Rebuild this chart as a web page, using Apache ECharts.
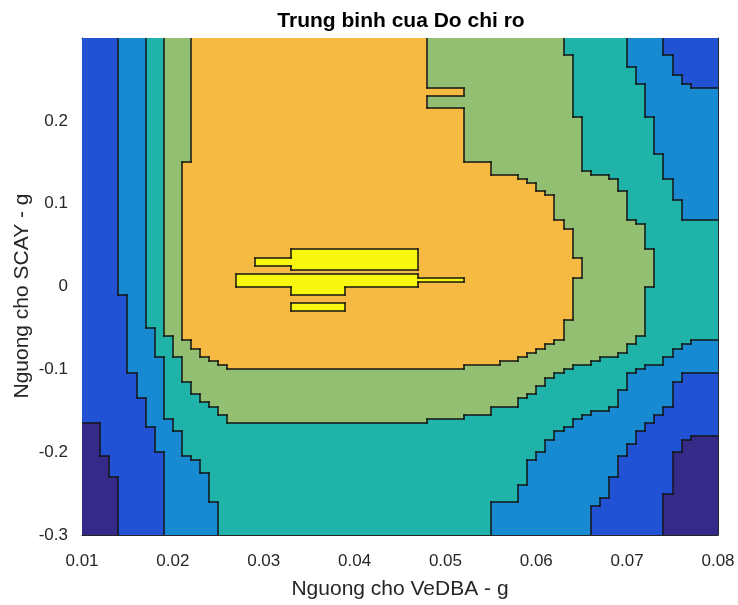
<!DOCTYPE html>
<html>
<head>
<meta charset="utf-8">
<script src="https://cdn.jsdelivr.net/npm/echarts@6/dist/echarts.min.js"></script>
<style>
  html, body { margin: 0; padding: 0; background: #ffffff; }
  #chart { width: 738px; height: 605px; }
</style>
</head>
<body>
<div id="chart"></div>
<script>
// Level grid: columns step 0.001 from x = 0.01, rows step 0.005 from y = 0.3 downward.
const xStart = 0.01, xStep = 0.001, nCols = 70;
const yTop = 0.3, yStep = 0.005;

const xTicks = [0.01, 0.02, 0.03, 0.04, 0.05, 0.06, 0.07, 0.08];
const yTicks = [-0.3, -0.2, -0.1, 0, 0.1, 0.2, 0.3];

// Filled colours for contour levels 0 (lowest) .. 6 (highest)
const levelColors = ['#352a87', '#2152d4', '#188ad1', '#1fb3aa', '#93bf72', '#f6b942', '#f6f60f'];

// Each entry: [number of identical rows, "level:endColumn ..."] read top to bottom
const levelRows = [
  [4, "1:4 2:7 3:9 4:12 5:38 4:53 3:60 2:64 1:70"],
  [3, "1:4 2:7 3:9 4:12 5:38 4:54 3:60 2:65 1:70"],
  [2, "1:4 2:7 3:9 4:12 5:38 4:54 3:61 2:65 1:70"],
  [2, "1:4 2:7 3:9 4:12 5:38 4:54 3:61 2:66 1:70"],
  [1, "1:4 2:7 3:9 4:12 5:38 4:54 3:62 2:67 1:70"],
  [2, "1:4 2:7 3:9 4:12 5:42 4:54 3:62 2:70"],
  [3, "1:4 2:7 3:9 4:12 5:38 4:54 3:62 2:70"],
  [2, "1:4 2:7 3:9 4:12 5:42 4:54 3:62 2:70"],
  [9, "1:4 2:7 3:9 4:12 5:42 4:55 3:63 2:70"],
  [2, "1:4 2:7 3:9 4:12 5:42 4:55 3:64 2:70"],
  [2, "1:4 2:7 3:9 4:11 5:45 4:55 3:64 2:70"],
  [1, "1:4 2:7 3:9 4:11 5:45 4:56 3:64 2:70"],
  [1, "1:4 2:7 3:9 4:11 5:48 4:58 3:64 2:70"],
  [1, "1:4 2:7 3:9 4:11 5:49 4:59 3:65 2:70"],
  [2, "1:4 2:7 3:9 4:11 5:50 4:59 3:65 2:70"],
  [1, "1:4 2:7 3:9 4:11 5:51 4:60 3:65 2:70"],
  [1, "1:4 2:7 3:9 4:11 5:52 4:60 3:65 2:70"],
  [5, "1:4 2:7 3:9 4:11 5:52 4:60 3:66 2:70"],
  [1, "1:4 2:7 3:9 4:11 5:53 4:61 3:70"],
  [1, "1:4 2:7 3:9 4:11 5:53 4:62 3:70"],
  [5, "1:4 2:7 3:9 4:11 5:54 4:62 3:70"],
  [2, "1:4 2:7 3:9 4:11 5:23 6:37 5:54 4:63 3:70"],
  [2, "1:4 2:7 3:9 4:11 5:19 6:37 5:55 4:63 3:70"],
  [1, "1:4 2:7 3:9 4:11 5:23 6:37 5:55 4:63 3:70"],
  [1, "1:4 2:7 3:9 4:11 5:55 4:63 3:70"],
  [1, "1:4 2:7 3:9 4:11 5:17 6:37 5:55 4:63 3:70"],
  [1, "1:4 2:7 3:9 4:11 5:17 6:42 5:54 4:63 3:70"],
  [1, "1:4 2:7 3:9 4:11 5:17 6:37 5:54 4:63 3:70"],
  [2, "1:4 2:7 3:9 4:11 5:23 6:29 5:54 4:62 3:70"],
  [2, "1:5 2:7 3:9 4:11 5:54 4:62 3:70"],
  [2, "1:5 2:7 3:9 4:11 5:23 6:29 5:54 4:62 3:70"],
  [2, "1:5 2:7 3:9 4:11 5:54 4:62 3:70"],
  [2, "1:5 2:7 3:9 4:11 5:53 4:62 3:70"],
  [2, "1:5 2:8 3:9 4:11 5:53 4:62 3:70"],
  [1, "1:5 2:8 3:10 4:11 5:53 4:61 3:70"],
  [1, "1:5 2:8 3:10 4:12 5:52 4:61 3:67 2:70"],
  [1, "1:5 2:8 3:10 4:12 5:51 4:60 3:66 2:70"],
  [1, "1:5 2:8 3:10 4:13 5:50 4:60 3:65 2:70"],
  [1, "1:5 2:8 3:10 4:13 5:49 4:59 3:65 2:70"],
  [1, "1:5 2:9 3:11 4:14 5:48 4:57 3:64 2:70"],
  [1, "1:5 2:9 3:11 4:15 5:46 4:56 3:64 2:70"],
  [1, "1:5 2:9 3:11 4:16 5:42 4:54 3:62 2:70"],
  [1, "1:5 2:9 3:11 4:53 3:61 2:70"],
  [1, "1:6 2:9 3:11 4:52 3:60 2:66 1:70"],
  [1, "1:6 2:9 3:11 4:51 3:60 2:66 1:70"],
  [1, "1:6 2:9 3:12 4:51 3:60 2:65 1:70"],
  [1, "1:6 2:9 3:12 4:50 3:60 2:65 1:70"],
  [1, "1:6 2:9 3:12 4:50 3:59 2:65 1:70"],
  [1, "1:6 2:9 3:13 4:49 3:59 2:65 1:70"],
  [1, "1:7 2:9 3:13 4:48 3:59 2:65 1:70"],
  [1, "1:7 2:9 3:14 4:48 3:59 2:65 1:70"],
  [1, "1:7 2:9 3:15 4:45 3:58 2:64 1:70"],
  [1, "1:7 2:9 3:15 4:45 3:56 2:64 1:70"],
  [1, "1:7 2:9 3:16 4:42 3:55 2:63 1:70"],
  [1, "1:7 2:10 3:16 4:38 3:54 2:63 1:70"],
  [1, "0:2 1:7 2:10 3:54 2:62 1:70"],
  [1, "0:2 1:8 2:10 3:53 2:62 1:70"],
  [1, "0:2 1:8 2:11 3:52 2:61 1:70"],
  [1, "0:2 1:8 2:11 3:52 2:61 1:67 0:70"],
  [1, "0:2 1:8 2:11 3:51 2:61 1:66 0:70"],
  [2, "0:2 1:8 2:11 3:51 2:60 1:66 0:70"],
  [1, "0:2 1:9 2:11 3:50 2:60 1:65 0:70"],
  [1, "0:3 1:9 2:12 3:50 2:59 1:65 0:70"],
  [3, "0:3 1:9 2:13 3:49 2:59 1:65 0:70"],
  [1, "0:3 1:9 2:14 3:49 2:59 1:65 0:70"],
  [2, "0:4 1:9 2:14 3:49 2:58 1:65 0:70"],
  [2, "0:4 1:9 2:14 3:48 2:58 1:65 0:70"],
  [1, "0:4 1:9 2:14 3:48 2:58 1:64 0:70"],
  [1, "0:4 1:9 2:14 3:48 2:57 1:64 0:70"],
  [1, "0:4 1:9 2:15 3:45 2:57 1:64 0:70"],
  [7, "0:4 1:9 2:15 3:45 2:56 1:64 0:70"]
];

// Expand the run-length rows into a full level matrix
const grid = [];
levelRows.forEach(([count, spec]) => {
  const cells = [];
  spec.split(' ').forEach(tok => {
    const [lv, end] = tok.split(':').map(Number);
    while (cells.length < end) cells.push(lv);
  });
  for (let k = 0; k < count; k++) grid.push(cells);
});
const nRows = grid.length;
const colX = c => xStart + c * xStep;
const rowY = r => yTop - r * yStep;

// Horizontal runs of equal level, one filled rectangle each
const cellRuns = [];
grid.forEach((cells, r) => {
  let start = 0;
  for (let c = 1; c <= nCols; c++) {
    if (c === nCols || cells[c] !== cells[start]) {
      cellRuns.push([colX(start), colX(c), rowY(r + 1), rowY(r), cells[start]]);
      start = c;
    }
  }
});

// Contour lines along every edge between two different levels
const edges = [];
for (let c = 1; c < nCols; c++) {
  let r0 = -1;
  for (let r = 0; r <= nRows; r++) {
    const diff = r < nRows && grid[r][c - 1] !== grid[r][c];
    if (diff && r0 < 0) r0 = r;
    if (!diff && r0 >= 0) { edges.push([colX(c), rowY(r0), colX(c), rowY(r)]); r0 = -1; }
  }
}
for (let r = 1; r < nRows; r++) {
  let c0 = -1;
  for (let c = 0; c <= nCols; c++) {
    const diff = c < nCols && grid[r - 1][c] !== grid[r][c];
    if (diff && c0 < 0) c0 = c;
    if (!diff && c0 >= 0) { edges.push([colX(c0), rowY(r), colX(c), rowY(r)]); c0 = -1; }
  }
}

const FONT = '"Liberation Sans", Arial, Helvetica, sans-serif';
const axisColor = '#262626';

const chart = echarts.init(document.getElementById('chart'), null, { renderer: 'canvas' });

const commonX = {
  type: 'value', min: xTicks[0], max: xTicks[xTicks.length - 1], interval: 0.01,
  axisLine: { show: true, onZero: false, lineStyle: { color: axisColor, width: 1 } },
  axisTick: { show: true, inside: true, length: 5, lineStyle: { color: axisColor } },
  splitLine: { show: false }
};
const commonY = {
  type: 'value', min: yTicks[0], max: yTicks[yTicks.length - 1], interval: 0.1,
  axisLine: { show: true, onZero: false, lineStyle: { color: axisColor, width: 1 } },
  axisTick: { show: true, inside: true, length: 5, lineStyle: { color: axisColor } },
  splitLine: { show: false }
};

chart.setOption({
  animation: false,
  backgroundColor: '#ffffff',
  grid: { left: 82, top: 38, width: 636, height: 503, containLabel: false },
  xAxis: [
    Object.assign({}, commonX, {
      position: 'bottom',
      name: 'Nguong cho VeDBA - g', nameLocation: 'middle', nameGap: 44,
      nameTextStyle: { fontFamily: FONT, fontSize: 21, color: '#262626' },
      axisLabel: { show: true, margin: 18, fontFamily: FONT, fontSize: 17, color: '#262626',
        formatter: v => v.toFixed(2) }
    }),
    Object.assign({}, commonX, { position: 'top', axisLabel: { show: false } })
  ],
  yAxis: [
    Object.assign({}, commonY, {
      position: 'left',
      axisLabel: { show: true, margin: 14, fontFamily: FONT, fontSize: 17, color: '#262626',
        showMaxLabel: false,
        formatter: v => (Math.abs(v) < 1e-9 ? '0' : String(+v.toFixed(1))) }
    }),
    Object.assign({}, commonY, { position: 'right', axisLabel: { show: false } })
  ],
  graphic: [
    {
      type: 'text', x: 401, y: 21,
      style: { text: 'Trung binh cua Do chi ro', font: 'bold 21px ' + FONT, fill: '#000000',
        align: 'center', verticalAlign: 'middle' }
    },
    {
      type: 'text', x: 22, y: 296, rotation: Math.PI / 2,
      style: { text: 'Nguong cho SCAY - g', font: '21px ' + FONT, fill: '#262626',
        align: 'center', verticalAlign: 'middle' }
    }
  ],
  series: [
    {
      type: 'custom', silent: true, clip: true, xAxisIndex: 0, yAxisIndex: 0,
      data: cellRuns,
      encode: { x: [0, 1], y: [2, 3] },
      renderItem: (params, api) => {
        const p0 = api.coord([api.value(0), api.value(3)]);
        const p1 = api.coord([api.value(1), api.value(2)]);
        const x0 = Math.round(p0[0]), y0 = Math.round(p0[1]);
        const x1 = Math.round(p1[0]), y1 = Math.round(p1[1]);
        return {
          type: 'rect',
          shape: { x: x0, y: y0, width: x1 - x0, height: y1 - y0 },
          style: { fill: levelColors[api.value(4)] }
        };
      }
    },
    {
      type: 'custom', silent: true, clip: true, xAxisIndex: 0, yAxisIndex: 0,
      data: edges,
      encode: { x: [0, 2], y: [1, 3] },
      renderItem: (params, api) => {
        const a = api.coord([api.value(0), api.value(1)]);
        const b = api.coord([api.value(2), api.value(3)]);
        return {
          type: 'line',
          shape: { x1: Math.round(a[0]), y1: Math.round(a[1]), x2: Math.round(b[0]), y2: Math.round(b[1]) },
          style: { stroke: '#141414', lineWidth: 1.5, lineCap: 'square' }
        };
      }
    }
  ]
});
</script>
</body>
</html>
